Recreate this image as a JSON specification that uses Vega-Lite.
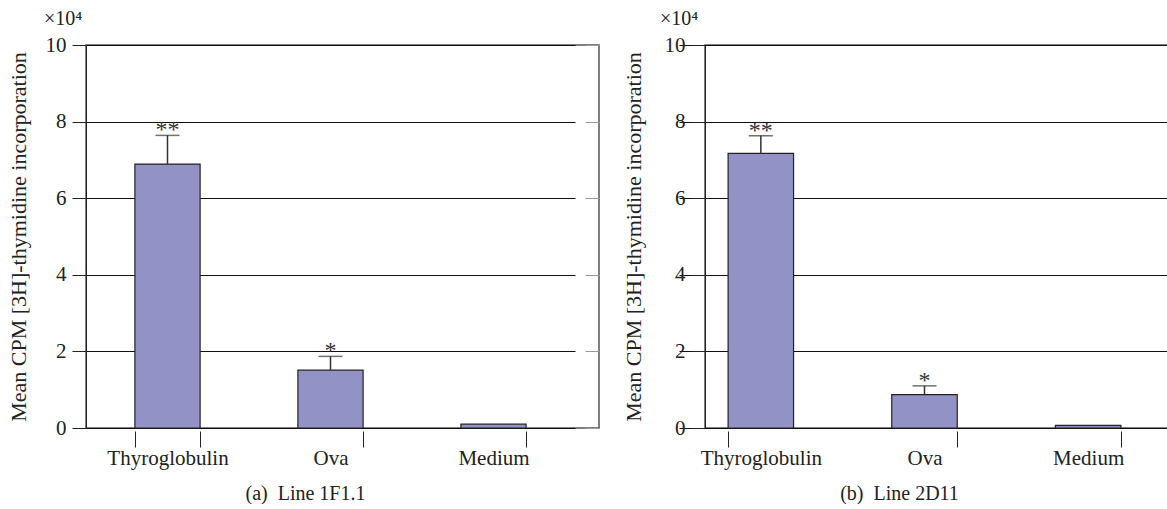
{
  "$schema": "https://vega.github.io/schema/vega-lite/v6.json",
  "background": "white",
  "padding": {"left": 6, "top": 8, "right": 0, "bottom": 0},
  "spacing": 20,
  "config": {
    "font": "Liberation Serif",
    "view": {"stroke": "#555", "strokeWidth": 1.5},
    "axis": {
      "labelFont": "Liberation Serif",
      "titleFont": "Liberation Serif",
      "labelColor": "#222",
      "titleColor": "#222",
      "titleFontWeight": "normal",
      "tickColor": "#222",
      "domainColor": "#222"
    },
    "title": {"font": "Liberation Serif", "fontWeight": "normal", "color": "#222"}
  },
  "data": {
    "values": [
      {"panel": "a", "stimulus": "Thyroglobulin", "mean": 68900, "upper": 76400, "sig": "**"},
      {"panel": "a", "stimulus": "Ova", "mean": 15100, "upper": 18700, "sig": "*"},
      {"panel": "a", "stimulus": "Medium", "mean": 1000, "upper": 1000, "sig": ""},
      {"panel": "b", "stimulus": "Thyroglobulin", "mean": 71700, "upper": 76300, "sig": "**"},
      {"panel": "b", "stimulus": "Ova", "mean": 8700, "upper": 11000, "sig": "*"},
      {"panel": "b", "stimulus": "Medium", "mean": 700, "upper": 700, "sig": ""}
    ]
  },
  "hconcat": [
    {
      "width": 513,
      "height": 383,
      "title": {"text": "×10⁴", "anchor": "start", "frame": "group", "dx": -42, "offset": -11, "fontSize": 20, "baseline": "alphabetic"},
      "transform": [{"filter": "datum.panel === 'a'"}],
      "resolve": {"axis": {"y": "independent"}},
      "encoding": {
        "x": {
          "field": "stimulus", "type": "nominal",
          "sort": ["Thyroglobulin", "Ova", "Medium"],
          "scale": {"range": [0, 489], "paddingInner": 0.6, "paddingOuter": 0.3},
          "axis": {
            "title": "(a)\u00a0 Line 1F1.1", "titleFontSize": 20, "titleX": 219, "titleY": 62, "titleBaseline": "middle",
            "labelFont": "Liberation Serif", "titleFont": "Liberation Serif",
            "labelFontSize": 21, "labelAngle": 0, "tickBand": "extent", "tickSize": 16, "offset": 3,
            "domain": false, "labelPadding": 0, "grid": false
          }
        }
      },
      "layer": [
        {
          "mark": {"type": "bar", "fill": "#9292c6", "stroke": "#222", "strokeWidth": 1.2},
          "encoding": {
            "y": {
              "field": "mean", "type": "quantitative",
              "scale": {"domain": [0, 100000], "nice": false},
              "axis": {
                "values": [0, 20000, 40000, 60000, 80000, 100000], "labelExpr": "datum.value / 10000",
                "labelFont": "Liberation Serif", "titleFont": "Liberation Serif",
                "tickSize": 14, "labelPadding": 6, "labelFontSize": 21,
                "grid": true, "gridColor": "#111", "gridWidth": 1,
                "title": "Mean CPM [3H]-thymidine incorporation", "titleFontSize": 22,
                "titleX": -68, "titleY": 191.5, "titleBaseline": "middle", "titleAngle": -90, "titleAlign": "center"
              }
            }
          }
        },
        {
          "transform": [{"filter": "datum.upper > datum.mean"}],
          "mark": {"type": "rule", "color": "#333", "strokeWidth": 1.5},
          "encoding": {"y": {"field": "mean", "type": "quantitative", "axis": null}, "y2": {"field": "upper"}}
        },
        {
          "transform": [{"filter": "datum.upper > datum.mean"}],
          "mark": {"type": "tick", "color": "#333", "size": 24, "thickness": 1.5},
          "encoding": {
            "y": {
              "field": "upper", "type": "quantitative",
              "axis": {"orient": "right", "labels": false, "domain": false, "grid": false, "tickSize": -14, "tickColor": "#999", "values": [0, 20000, 40000, 60000, 80000, 100000], "title": null}
            }
          }
        },
        {
          "mark": {"type": "text", "fontSize": 24, "color": "#333", "dy": 2, "baseline": "alphabetic"},
          "encoding": {"y": {"field": "upper", "type": "quantitative", "axis": null}, "text": {"field": "sig"}}
        }
      ]
    },
    {
      "width": 463,
      "height": 383,
      "title": {"text": "×10⁴", "anchor": "start", "frame": "group", "dx": -45, "offset": -11, "fontSize": 20, "baseline": "alphabetic"},
      "transform": [{"filter": "datum.panel === 'b'"}],
      "encoding": {
        "x": {
          "field": "stimulus", "type": "nominal",
          "sort": ["Thyroglobulin", "Ova", "Medium"],
          "scale": {"range": [-26, 465], "paddingInner": 0.6, "paddingOuter": 0.3},
          "axis": {
            "title": "(b)\u00a0 Line 2D11", "titleFontSize": 20, "titleX": 194, "titleY": 62, "titleBaseline": "middle",
            "labelFont": "Liberation Serif", "titleFont": "Liberation Serif",
            "labelFontSize": 21, "labelAngle": 0, "tickBand": "extent", "tickSize": 16, "offset": 3,
            "tickColor": {"condition": {"test": "datum.value === 'Thyroglobulin'", "value": "transparent"}, "value": "#222"},
            "domain": false, "labelPadding": 0, "grid": false
          }
        }
      },
      "layer": [
        {
          "mark": {"type": "bar", "fill": "#9292c6", "stroke": "#222", "strokeWidth": 1.2},
          "encoding": {
            "y": {
              "field": "mean", "type": "quantitative",
              "scale": {"domain": [0, 100000], "nice": false},
              "axis": {
                "values": [0, 20000, 40000, 60000, 80000, 100000], "labelExpr": "datum.value / 10000",
                "labelFont": "Liberation Serif", "titleFont": "Liberation Serif",
                "tickSize": 14, "labelPadding": 6, "labelFontSize": 21,
                "grid": true, "gridColor": "#111", "gridWidth": 1,
                "title": "Mean CPM [3H]-thymidine incorporation", "titleFontSize": 22,
                "titleX": -72, "titleY": 191.5, "titleBaseline": "middle", "titleAngle": -90, "titleAlign": "center"
              }
            }
          }
        },
        {
          "transform": [{"filter": "datum.upper > datum.mean"}],
          "mark": {"type": "rule", "color": "#333", "strokeWidth": 1.5},
          "encoding": {"y": {"field": "mean", "type": "quantitative"}, "y2": {"field": "upper"}}
        },
        {
          "transform": [{"filter": "datum.upper > datum.mean"}],
          "mark": {"type": "tick", "color": "#333", "size": 24, "thickness": 1.5},
          "encoding": {"y": {"field": "upper", "type": "quantitative"}}
        },
        {
          "mark": {"type": "text", "fontSize": 24, "color": "#333", "dy": 2, "baseline": "alphabetic"},
          "encoding": {"y": {"field": "upper", "type": "quantitative"}, "text": {"field": "sig"}}
        }
      ]
    }
  ]
}
